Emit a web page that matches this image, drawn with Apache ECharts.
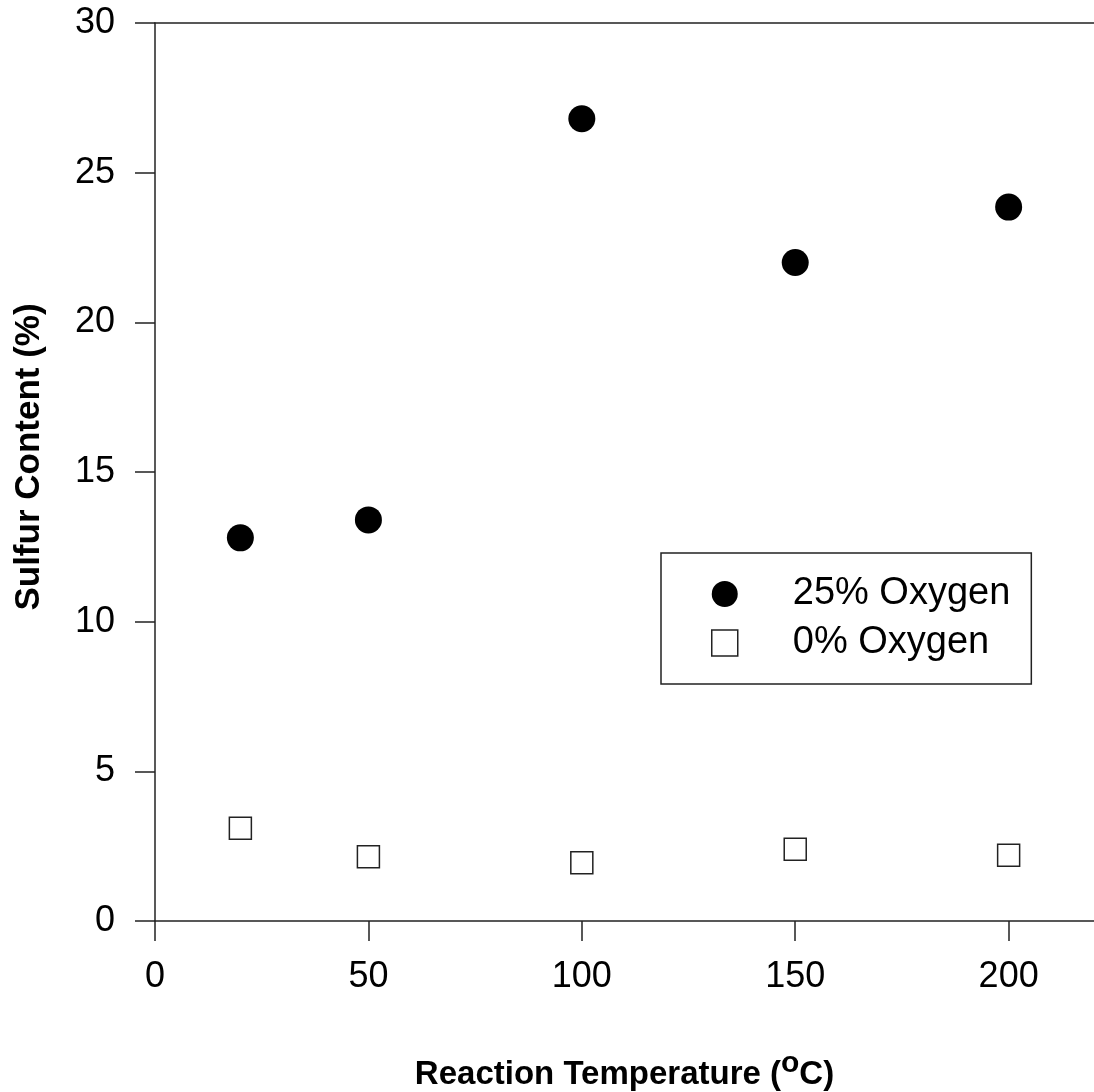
<!DOCTYPE html>
<html>
<head>
<meta charset="utf-8">
<script src="https://cdn.jsdelivr.net/npm/echarts@6/dist/echarts.min.js"></script>
<style>
html,body{margin:0;padding:0;background:#fff;}
#chart{width:1094px;height:1092px;}
</style>
</head>
<body>
<div id="chart"></div>
<script>
const temperatures = [20, 50, 100, 150, 200];
const oxygen25 = [12.8, 13.4, 26.8, 22.0, 23.85];
const oxygen0 = [3.1, 2.15, 1.95, 2.4, 2.2];
const xTicks = [0, 50, 100, 150, 200];
const seriesNames = ['25% Oxygen', '0% Oxygen'];

const font = 'Liberation Sans, Arial, sans-serif';
const axisColor = '#222';

const chart = echarts.init(document.getElementById('chart'), null, {renderer: 'canvas'});
chart.setOption({
  animation: false,
  backgroundColor: '#fff',
  grid: {left: 155, right: 0, top: 23, bottom: 171, containLabel: false, outerBoundsMode: 'none'},
  legend: {
    left: 661, top: 553, orient: 'vertical',
    padding: [22, 21, 22, 50],
    itemGap: 11, itemWidth: 26, itemHeight: 26,
    borderColor: '#222', borderWidth: 1.5,
    textStyle: {fontFamily: font, fontSize: 38, color: '#000', padding: [0, 0, 0, 50]},
    data: [
      {name: seriesNames[0], icon: 'circle'},
      {name: seriesNames[1], icon: 'path://M0,0L10,0L10,10L0,10Z', itemStyle: {color: '#fff', borderColor: '#222', borderWidth: 1.5}}
    ]
  },
  xAxis: [{
    type: 'value', min: 0, max: 220, interval: 50, position: 'bottom',
    axisLine: {show: true, lineStyle: {color: axisColor, width: 1.5}},
    axisTick: {show: true, length: 20, inside: false, customValues: xTicks, lineStyle: {color: axisColor, width: 1.5}},
    axisLabel: {show: true, margin: 38, customValues: xTicks, fontFamily: font, fontSize: 36, color: '#000'},
    splitLine: {show: false},
    name: 'Reaction Temperature ({sup|o}C)',
    nameLocation: 'middle', nameGap: 128,
    nameTextStyle: {
      fontFamily: font, fontSize: 33, fontWeight: 'bold', color: '#000',
      rich: {sup: {fontFamily: font, fontSize: 30, fontWeight: 'bold', color: '#000', padding: [0, 0, 22, 0], verticalAlign: 'bottom'}}
    }
  }, {
    type: 'value', min: 0, max: 220, position: 'top',
    axisLine: {show: true, onZero: false, lineStyle: {color: axisColor, width: 1.5}},
    axisTick: {show: false}, axisLabel: {show: false}, splitLine: {show: false}
  }],
  yAxis: {
    type: 'value', min: 0, max: 30, interval: 5,
    axisLine: {show: true, lineStyle: {color: axisColor, width: 1.5}},
    axisTick: {show: true, length: 20, inside: false, lineStyle: {color: axisColor, width: 1.5}},
    axisLabel: {margin: 40, fontFamily: font, fontSize: 36, color: '#000'},
    splitLine: {show: false},
    name: 'Sulfur Content (%)',
    nameLocation: 'middle', nameGap: 108,
    nameTextStyle: {fontFamily: font, fontSize: 35, fontWeight: 'bold', color: '#000', padding: [0, 0, 0, 30]}
  },
  series: [{
    name: seriesNames[0], type: 'scatter', xAxisIndex: 0,
    symbol: 'circle', symbolSize: 27,
    itemStyle: {color: '#000', opacity: 1},
    data: temperatures.map((t, i) => [t, oxygen25[i]])
  }, {
    name: seriesNames[1], type: 'scatter', xAxisIndex: 0,
    symbol: 'rect', symbolSize: 22,
    itemStyle: {color: '#fff', borderColor: '#222', borderWidth: 1.5, opacity: 1},
    data: temperatures.map((t, i) => [t, oxygen0[i]])
  }]
});
</script>
</body>
</html>
